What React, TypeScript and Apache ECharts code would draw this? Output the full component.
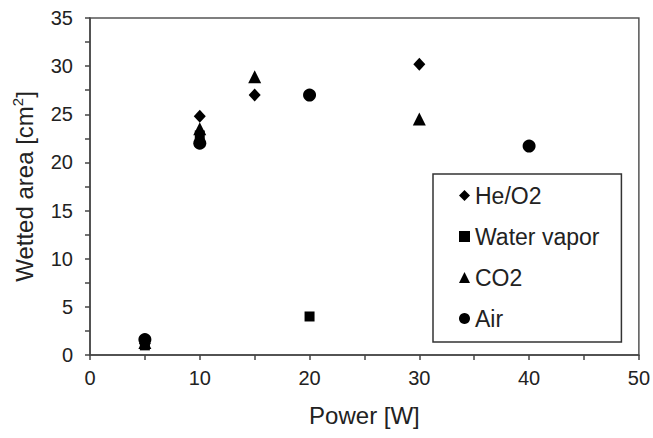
import React, { useEffect, useRef } from "react";
import * as echarts from "echarts";

const seriesNames = ["He/O2", "Water vapor", "CO2", "Air"];
const heO2: number[][] = [[5, 1.2], [10, 24.8], [15, 27.0], [30, 30.2]];
const waterVapor: number[][] = [[5, 1.0], [10, 22.8], [20, 4.0]];
const co2: number[][] = [[5, 1.3], [10, 23.5], [15, 28.9], [30, 24.5]];
const air: number[][] = [[5, 1.6], [10, 22.0], [20, 27.0], [40, 21.7]];

const FONT = "Liberation Sans, Arial, sans-serif";

export default function App() {
  const ref = useRef<HTMLDivElement>(null);
  useEffect(() => {
    if (!ref.current) return;
    const chart = echarts.init(ref.current, undefined, { renderer: "svg" });
    const sym = (name: string, symbol: string, size: any, data: number[][]) => ({
      name,
      type: "scatter",
      symbol,
      symbolSize: size,
      data,
      itemStyle: { color: "#000", opacity: 1 },
    });
    chart.setOption({
      animation: false,
      backgroundColor: "#fff",
      textStyle: { fontFamily: FONT },
      grid: {
        left: 90,
        top: 18,
        right: 11,
        bottom: 83,
        show: true,
        borderColor: "#555",
        borderWidth: 1.5,
        backgroundColor: "transparent",
      },
      legend: {
        orient: "vertical",
        left: 433,
        top: 174,
        data: seriesNames.map((n) => ({ name: n })),
        itemWidth: 11,
        itemHeight: 11,
        itemGap: 18,
        padding: [10, 22, 12, 26],
        borderColor: "#333",
        borderWidth: 1.5,
        backgroundColor: "#fff",
        textStyle: { fontFamily: FONT, fontSize: 23, lineHeight: 22, color: "#222" },
      },
      xAxis: {
        type: "value",
        min: 0,
        max: 50,
        interval: 5,
        name: "Power [W]",
        nameLocation: "middle",
        nameGap: 48,
        nameTextStyle: { fontFamily: FONT, fontSize: 24, color: "#222" },
        axisLine: { show: true, lineStyle: { color: "#444", width: 1.5 } },
        axisTick: { show: true, inside: false, length: 5, lineStyle: { color: "#444", width: 1.5 } },
        axisLabel: {
          fontFamily: FONT,
          fontSize: 20,
          color: "#222",
          margin: 13,
          formatter: (v: number) => (v % 10 === 0 ? String(v) : ""),
        },
        splitLine: { show: false },
      },
      yAxis: {
        type: "value",
        min: 0,
        max: 35,
        interval: 2.5,
        name: "{a|Wetted area [cm}{s|2}{a|]}",
        nameLocation: "middle",
        nameGap: 52,
        nameRotate: 90,
        nameTextStyle: {
          fontFamily: FONT,
          fontSize: 24,
          color: "#222",
          rich: {
            a: { fontFamily: FONT, fontSize: 24, color: "#222", lineHeight: 28 },
            s: { fontFamily: FONT, fontSize: 15, color: "#222", lineHeight: 28, verticalAlign: "top" },
          },
        },
        axisLine: { show: true, lineStyle: { color: "#444", width: 1.5 } },
        axisTick: { show: true, inside: false, length: 5, lineStyle: { color: "#444", width: 1.5 } },
        axisLabel: {
          fontFamily: FONT,
          fontSize: 20,
          color: "#222",
          margin: 17,
          formatter: (v: number) => (v % 5 === 0 ? String(v) : ""),
        },
        splitLine: { show: false },
      },
      series: [
        sym(seriesNames[1], "rect", 10, waterVapor),
        sym(seriesNames[2], "triangle", 13, co2),
        sym(seriesNames[0], "diamond", [12, 13], heO2),
        sym(seriesNames[3], "circle", 13, air),
      ],
    });
    return () => chart.dispose();
  }, []);
  return <div ref={ref} style={{ width: 653, height: 438, position: "absolute", left: 0, top: 0 }} />;
}
